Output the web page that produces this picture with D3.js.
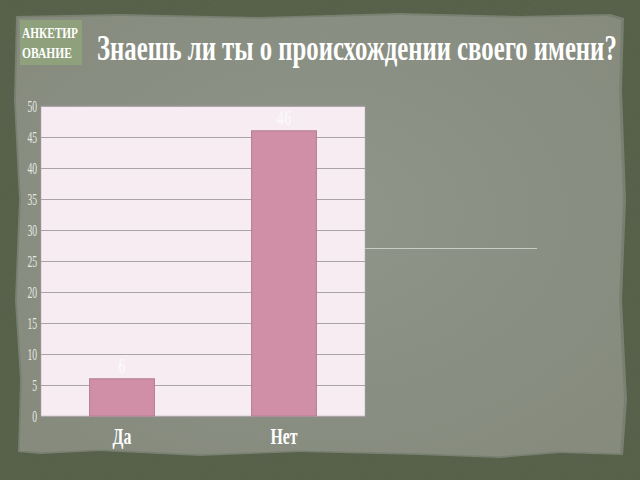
<!DOCTYPE html>
<html><head><meta charset="utf-8">
<script src="https://cdn.jsdelivr.net/npm/d3@7"></script>
<style>html,body{margin:0;padding:0;background:#5f6852;overflow:hidden}</style>
</head><body>
<svg id="c" width="640" height="480"></svg>
<script>
const categories = ["Да", "Нет"];
const values = [6, 46];
const yTicks = [0, 5, 10, 15, 20, 25, 30, 35, 40, 45, 50];
const titleText = "Знаешь ли ты о происхождении своего имени?";
const badgeLines = ["АНКЕТИР", "ОВАНИЕ"];

(function(){
const FONT = "Liberation Serif, DejaVu Serif";
const svg = d3.select("#c");
const defs = svg.append("defs");
const f = defs.append("filter").attr("id","tex").attr("x",0).attr("y",0).attr("width","100%").attr("height","100%");
f.append("feTurbulence").attr("type","fractalNoise").attr("baseFrequency",0.8).attr("numOctaves",2).attr("seed",3).attr("result","n");
f.append("feColorMatrix").attr("in","n").attr("type","matrix")
 .attr("values","0 0 0 0 0  0 0 0 0 0  0 0 0 0 0  0 0 0 0.12 0").attr("result","a");
f.append("feComposite").attr("in","a").attr("in2","SourceGraphic").attr("operator","in").attr("result","b");
f.append("feMerge").call(m=>{m.append("feMergeNode").attr("in","SourceGraphic");m.append("feMergeNode").attr("in","b");});

svg.append("rect").attr("width",640).attr("height",480).attr("fill","#5c6550").attr("filter","url(#tex)");
const paper = "M16,16 L120,14 L260,17 L400,13 L520,16 L610,14 L624,18 L622,90 L626,200 L622,300 L627,400 L623,455 L560,453 L500,458 L420,455 L300,452 L200,456 L100,451 L40,454 L18,452 L20,380 L15,300 L19,200 L14,100 Z";
svg.append("path").attr("d",paper).attr("fill","#7d8474").attr("filter","url(#tex)");
const rg = defs.append("radialGradient").attr("id","pg").attr("cx","50%").attr("cy","45%").attr("r","65%");
rg.append("stop").attr("offset","0%").attr("stop-color","#90958a");
rg.append("stop").attr("offset","100%").attr("stop-color","#868b7e");
svg.append("path").attr("d",paper).attr("fill","url(#pg)").attr("transform","translate(2,2) scale(0.992)");

function ctext(g, str, x, y, size, opts){
  const t = g.append("text").attr("font-family",FONT).attr("font-size",size)
    .attr("font-weight",opts.bold?"bold":"normal").attr("fill",opts.fill||"#fff")
    .attr("text-anchor",opts.anchor||"start").text(str);
  let sx = opts.sx || 1;
  if (opts.width){ const w = t.node().getComputedTextLength(); sx = opts.width / w; }
  t.attr("transform",`translate(${x},${y}) scale(${sx},1)`);
  return t;
}

svg.append("rect").attr("x",20).attr("y",20).attr("width",62).attr("height",45).attr("fill","#8ea07c");
const bg = svg.append("g");
badgeLines.forEach((d,i)=>ctext(bg,d,22,38+i*20,15,{width:i==0?56:50,bold:true,fill:"#ffffff"}));

ctext(svg, titleText, 97, 60, 36, {width:520, bold:true});

svg.append("line").attr("x1",365).attr("x2",537).attr("y1",248.5).attr("y2",248.5).attr("stroke","#c9cbc4").attr("stroke-width",1);

const pl=41, pr=365, pt=106, pb=416;
const x = d3.scaleBand().domain(categories).range([pl,pr]).paddingInner(0.6).paddingOuter(0.3);
const y = d3.scaleLinear().domain([0,50]).range([pb,pt]);

svg.append("rect").attr("x",pl).attr("y",pt).attr("width",pr-pl).attr("height",pb-pt).attr("fill","#f6ecf1").attr("stroke","#b0a8ae").attr("stroke-width",0.5);

const grid = svg.append("g").attr("transform",`translate(${pl},0)`)
  .call(d3.axisLeft(y).tickValues(yTicks).tickSize(-(pr-pl)).tickFormat(""));
grid.select(".domain").remove();
grid.selectAll("line").attr("stroke","#aaa3a9").attr("stroke-width",1);

const yAx = svg.append("g").attr("transform",`translate(${pl},0)`)
  .call(d3.axisLeft(y).tickValues(yTicks).tickSize(0).tickPadding(4));
yAx.select(".domain").remove();
yAx.selectAll(".tick text").each(function(d){
  d3.select(this).attr("font-family",FONT).attr("font-size",16).attr("fill","#e8e8e3")
    .attr("x",null).attr("dy",null).attr("y",5)
    .attr("text-anchor","end").attr("transform","translate(-4,0) scale(0.6,1)");
});

svg.append("g").selectAll("rect").data(values).join("rect")
  .attr("x",(d,i)=>x(categories[i])).attr("width",x.bandwidth())
  .attr("y",d=>y(d)).attr("height",d=>pb-y(d))
  .attr("fill","#d18fa7").attr("stroke","#b27c92").attr("stroke-width",1);

const vl = svg.append("g");
values.forEach((d,i)=>ctext(vl, String(d), x(categories[i])+x.bandwidth()/2, y(d)-6, 22, {sx:0.68, bold:true, anchor:"middle", fill:"#fbf7f9"}));

const xAx = svg.append("g").attr("transform",`translate(0,${pb})`)
  .call(d3.axisBottom(x).tickSize(0).tickPadding(27));
xAx.select(".domain").remove();
xAx.selectAll(".tick text").each(function(){
  d3.select(this).attr("font-family",FONT).attr("font-weight","bold").attr("font-size",24).attr("fill","#ffffff")
    .attr("y",null).attr("dy",null).attr("transform","translate(0,28) scale(0.66,1)");
});
})();
</script>
</body></html>
